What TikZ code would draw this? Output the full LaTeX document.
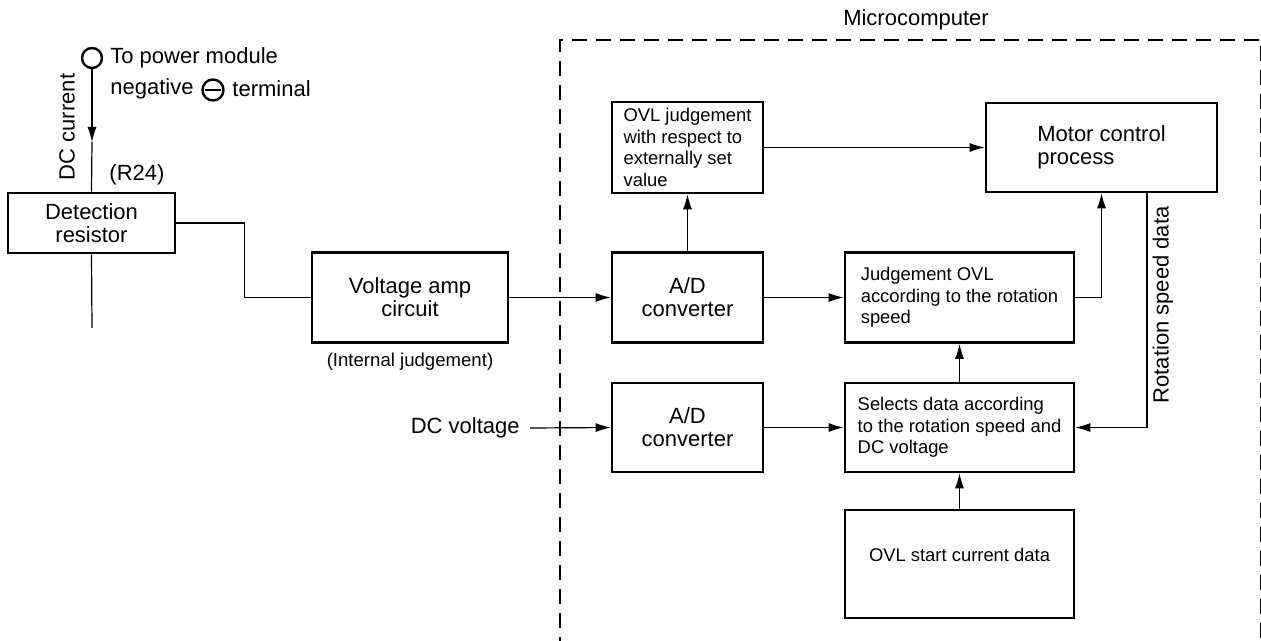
\documentclass[tikz,border=0pt]{standalone}
\usepackage{fontspec}
\setmainfont{Liberation Sans}
\usetikzlibrary{arrows.meta}

\begin{document}
\begin{tikzpicture}[x=0.5pt,y=-0.5pt,
  blk/.style={draw,line width=1.3pt,inner sep=0pt,align=center,font=\fontsize{11}{11.5}\selectfont},
  sblk/.style={draw,line width=1.3pt,inner sep=0pt,align=left,font=\fontsize{9.2}{10.7}\selectfont},
  wire/.style={line width=0.6pt},
  arr/.style={wire,-{Latex[length=7.5pt,width=4.5pt]}},
  lbl/.style={inner sep=0pt,font=\fontsize{11}{11.5}\selectfont}]
  \useasboundingbox (0,0) rectangle (1261,641);

  % microcomputer frame
  \draw[line width=1.4pt,dash pattern=on 7.5pt off 4.5pt] (560,700) -- (560,40) -- (1261.5,40) -- (1261.5,700);
  \node[lbl] (mc) at (916,20) {Microcomputer};

  % power module terminal
  \node[draw,circle,line width=1.2pt,minimum size=10pt,inner sep=0pt] (term) at (92,58) {};
  \node[lbl,anchor=west] (tpm) at (110,58) {To power module};
  \node[draw,circle,line width=1.2pt,minimum size=10.5pt,inner sep=0pt] (neg) at (213,90) {};
  \draw[line width=1.3pt] ([xshift=-4.2pt]neg.center) -- ([xshift=4.2pt]neg.center);
  \node[lbl,anchor=west] (negl) at (110,89) {negative};
  \node[lbl,anchor=west] (terml) at (232,89) {terminal};
  \node[lbl,rotate=90] (dcc) at (67,127) {DC current};
  \node[lbl] (r24) at (137,175) {(R24)};

  % blocks
  \node[blk,minimum width=83.5pt,minimum height=30pt] (det) at (91.5,223) {Detection\\resistor};
  \node[blk,minimum width=98pt,minimum height=45pt] (vamp) at (410,297.5) {Voltage amp\\circuit};
  \node[inner sep=0pt,font=\fontsize{9.3}{10}\selectfont] (intj) at (410,362) {(Internal judgement)};
  \node[sblk,minimum width=75.5pt,minimum height=45.5pt] (ovl) at (687.5,147.5) {OVL judgement\\with respect to\\externally set\\value};
  \node[blk,minimum width=75.5pt,minimum height=45pt] (ad1) at (687.5,297.5) {A/D\\converter};
  \node[blk,minimum width=75.5pt,minimum height=44.5pt] (ad2) at (687.5,427.5) {A/D\\converter};
  \node[blk,align=left,minimum width=115.5pt,minimum height=44.5pt] (motor) at (1101.5,147.5) {Motor control\\process};
  \node[sblk,minimum width=114.5pt,minimum height=45pt] (judg) at (959.5,297.5) {Judgement OVL\\according to the rotation\\speed};
  \node[sblk,minimum width=114.5pt,minimum height=44.5pt] (sel) at (959.5,427.5) {Selects data according\\to the rotation speed and\\DC voltage};
  \node[sblk,text depth=9pt,minimum width=114.5pt,minimum height=54pt] (ovls) at (959.5,564) {OVL start current data};
  \node[lbl,anchor=east] (dcv) at (520,428) {DC voltage};
  \node[lbl,rotate=90] (rsd) at (1163,305) {Rotation speed data};

  % connections
  \coordinate (dcm) at (92,142);
  \coordinate (detend) at (92,328);
  \draw[arr] (term.south) -- (dcm);
  \draw[wire] (dcm) -- (det.north);
  \draw[wire] (det.south) -- (detend);
  \draw[wire] (det.east) -- ++(68,0) |- (vamp.west);
  \draw[arr] (vamp.east) -- (ad1.west);
  \draw[arr] (ad1.north) -- (ovl.south);
  \draw[arr] (ovl.east) -- (motor.west);
  \draw[arr] (ad1.east) -- (judg.west);
  \draw[arr] (judg.east) -| (motor.south);
  \draw[arr] ([xshift=5pt]dcv.east) -- (ad2.west);
  \draw[arr] (ad2.east) -- (sel.west);
  \draw[arr] (sel.north) -- (judg.south);
  \draw[arr] (ovls.north) -- (sel.south);
  \draw[arr] ([xshift=22.75pt]motor.south) |- (sel.east);
\end{tikzpicture}
\end{document}
